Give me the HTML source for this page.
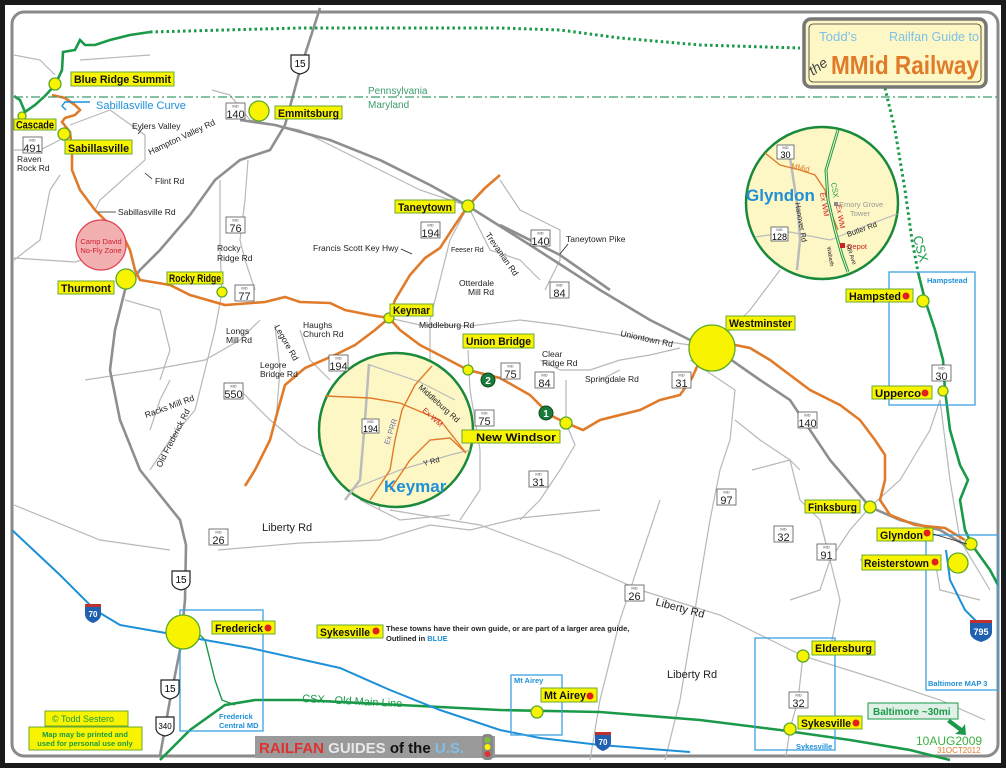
<!DOCTYPE html>
<html><head><meta charset="utf-8"><style>
html,body{margin:0;padding:0;background:#1a1a1a}
svg{display:block}
text{font-family:"Liberation Sans",sans-serif}
.lb{fill:#f8f400;stroke:#6aa832;stroke-width:1}
.lt{font-weight:bold;font-size:11px;fill:#111}
.sm{font-size:8.5px;fill:#222}
.rd{fill:none;stroke:#b8b8b8;stroke-width:1.2}
.hw{fill:none;stroke:#8f8f8f;stroke-width:2.6}
.or{fill:none;stroke:#e07b2a;stroke-width:2.6}
.gr{fill:none;stroke:#1a9a48;stroke-width:2.6}
.bl{fill:none;stroke:#1e90d8;stroke-width:2}
.bx{fill:none;stroke:#3aa2e0;stroke-width:1.3}
.tc{fill:#f8f400;stroke:#5aa82a;stroke-width:1.3}
.sh{fill:#fff;stroke:#555;stroke-width:0.8}
.sn{font-size:11px;fill:#222}
.st{font-size:4px;fill:#444}
</style></head><body>
<svg width="1006" height="768" viewBox="0 0 1006 768" xmlns="http://www.w3.org/2000/svg">
<rect x="0" y="0" width="1006" height="768" fill="#1a1a1a"/>
<rect x="5" y="5" width="996" height="758" fill="#fff"/>
<rect x="12" y="12" width="986" height="744" rx="12" fill="#fff" stroke="#8a8a8a" stroke-width="3"/>

<g class="rd">
<path d="M14,55 L40,60 L55,75 M80,60 L150,55"/>
<path d="M14,150 L40,150 L60,140 M70,125 L110,110 L145,135 L145,160 L100,200 L95,210"/>
<path d="M14,260 L40,240 L50,190 L60,175 M14,258 L75,262 L100,255"/>
<path d="M212,90 L230,95 L250,120 L300,130 L360,160 L420,190 L468,206"/>
<path d="M248,160 L245,200 L240,240 L245,260 L255,290"/>
<path d="M220,180 L220,250 L222,292 L215,330 L205,370 L195,410 L170,440 L150,470"/>
<path d="M125,300 L160,310 L170,350 L160,380"/>
<path d="M85,380 L150,370 L205,360 L240,340 L260,320"/>
<path d="M240,390 L270,420 L300,445 L330,460"/>
<path d="M275,325 L280,370 L276,420 M300,330 L310,360 L330,380"/>
<path d="M468,206 L450,240 L440,280 L430,320 L430,360 M468,206 L490,250 L520,260 L540,280"/>
<path d="M500,180 L520,210 L560,230 L560,260 L545,290"/>
<path d="M389,318 L420,325 L470,326 L520,320 L560,325 L620,335 L690,345"/>
<path d="M468,350 L470,390 L480,450 L480,490 L460,520"/>
<path d="M540,360 L560,370 L590,370 L620,360 L650,355 L680,348"/>
<path d="M566,423 L575,445 L560,470 L540,500 L520,520"/>
<path d="M566,380 L566,423 M600,380 L620,370"/>
<path d="M712,348 L750,310 L765,290 L780,270"/>
<path d="M690,360 L735,390 L730,440 L720,470 L710,520 L700,580 L690,640 L680,700 L665,760"/>
<path d="M735,420 L760,440 L790,460 L800,470 M752,470 L790,460 L800,500 L820,520 L830,560 L820,590 L790,600"/>
<path d="M820,520 L830,560 L840,600 L830,650 M870,507 L850,530 L830,560"/>
<path d="M870,507 L900,480 L930,430 L940,400 L945,440 L950,480 L960,540 L990,590"/>
<path d="M860,560 L900,555 L935,560 L940,590 L980,600"/>
<path d="M218,550 L300,543 L380,540 L430,525 L470,530 L520,518 L600,510"/>
<path d="M14,505 L100,540 L170,550"/>
<path d="M390,510 L480,525 L560,555 L640,590 L720,615 L803,656 L880,680 L940,700 L985,720"/>
<path d="M803,656 L798,700 L790,729 L786,756"/>
<path d="M660,500 L640,560 L620,620 L600,700 L590,760"/>
<path d="M150,430 L160,400 L170,380"/>
<path d="M370,470 L380,510 M360,500 L400,520 L450,515"/>
</g>

<g class="hw">
<path d="M320,8 L300,70 L285,125 L270,150 L240,160 L215,180 L190,215 L160,250 L140,270 L125,290 L115,330 L110,370 L120,420 L140,470 L180,520 L186,545 L185,600 L180,650 L170,700 L160,756"/>
<path d="M240,120 L275,125 L330,140 L380,160 L430,185 L468,206 L530,245 L600,290 L650,320 L690,340 L720,352 L760,380 L790,400 L830,460 L870,507 L900,520 L940,530 L965,545"/>
<path d="M500,225 L560,255 L610,290"/>
</g>

<g class="or">
<path d="M52,95 L65,98 L75,105 L80,110 L75,115 L65,118 L62,122 L70,132 L72,150 L72,170 L80,190 L95,210 L110,225 L120,230 L130,250 L135,270 L140,280 L170,285 L190,295 L225,305 L265,302 L285,297 L300,302 L330,303 L345,310 L370,315 L389,318 L400,330 L420,345 L445,358 L468,370 L500,378 L530,395 L550,415 L566,423 L583,430 L600,420 L640,410 L660,400 L680,395 L692,378 L700,360 L712,348 L730,344 L750,348 L770,360 L790,375 L810,390 L840,405 L860,420 L875,440 L885,455 L885,480 L880,500 L890,515 L915,525 L945,528 L965,540"/>
<path d="M389,318 L395,300 L410,275 L425,258 L440,248 L455,225 L468,206 L485,188 L500,175"/>
<path d="M389,318 L375,330 L355,345 L335,355 L305,368 L285,385 L278,410 L270,440 L255,470 L245,486"/>
</g>

<g class="gr">
<path d="M14,96 L20,100 L25,112 L35,105 L45,96 L55,85 L62,70 L63,52 L75,50 L80,40 L85,45 L95,45 L110,40 L130,35 L150,32"/>
<path d="M918,272 L925,300 L935,330 L943,360 L945,390 L950,430 L960,465 L968,480 L960,500 L965,530 L972,545 L990,570 L998,585"/>
<path d="M160,760 L190,730 L225,705 L255,700 L300,700 L400,705 L500,710 L600,712 L700,720 L780,730 L850,740 L910,750 L950,760"/>
<path d="M195,630 L205,640 L215,680 L222,700 L235,705" stroke-width="1.4"/>
</g>
<g fill="none" stroke="#1a9a48" stroke-width="3" stroke-dasharray="2.5,3">
<path d="M150,32 L300,28 L500,28 L560,30 L620,38 L700,45 L800,48"/>
<path d="M885,88 L895,130 L905,190 L912,240 L918,272"/>
</g>

<line x1="14" y1="97" x2="998" y2="97" stroke="#3c9c6c" stroke-width="1.2" stroke-dasharray="9,3,2,3"/>
<text x="368" y="94" font-size="10" fill="#3c9c6c">Pennsylvania</text>
<text x="368" y="108" font-size="10" fill="#3c9c6c">Maryland</text>

<g class="bl">
<path d="M12,530 L60,575 L95,610 L120,625 L160,632 L250,648 L340,668 L390,690 L440,710 L500,730 L540,738 L600,745 L690,752"/>
<path d="M946,550 L950,580 L965,610 L977,622"/>
<path d="M66,110 L62,106 L65,102 L90,102" stroke-width="1.4"/>
</g>

<g class="bx">
<rect x="180" y="610" width="83" height="121"/>
<rect x="511" y="675" width="51" height="60"/>
<rect x="755" y="638" width="80" height="112"/>
<rect x="926" y="535" width="72" height="155"/>
<rect x="889" y="272" width="86" height="133"/>
</g>
<g font-size="7.5" fill="#1e90d8" font-weight="bold">
<text x="927" y="283">Hampstead</text>
<text x="928" y="686">Baltimore MAP 3</text>
<text x="514" y="683">Mt Airey</text>
<text x="796" y="749">Sykesville</text>
<text x="219" y="719">Frederick</text>
<text x="219" y="728">Central MD</text>
</g>

<circle cx="101" cy="245" r="25" fill="#f2b0b0" stroke="#e04050" stroke-width="1.2"/>
<text x="101" y="244" font-size="7.5" fill="#d02030" text-anchor="middle">Camp David</text>
<text x="101" y="253" font-size="7.5" fill="#d02030" text-anchor="middle">No-Fly Zone</text>

<circle cx="396" cy="430" r="77" fill="#fdf7c6" stroke="#1a8a3a" stroke-width="2.5"/>
<g fill="none">
<path d="M369,364 L365,420 L360,480 L345,500" stroke="#bbb" stroke-width="2.5"/>
<path d="M370,365 L420,382 L455,400 M350,490 L400,470 L450,455 L470,450" stroke="#bbb" stroke-width="1.2"/>
<path d="M325,396 L370,398 L400,403 L440,420 L466,453" stroke="#e07b2a" stroke-width="1.4"/>
<path d="M432,366 L415,385 L402,410 L395,440 L390,470 L370,500" stroke="#e07b2a" stroke-width="1.4"/>
<path d="M390,490 L410,460 L430,440 L450,438 L466,453" stroke="#e07b2a" stroke-width="1.4"/>
</g>
<g transform="translate(362,419)"><rect class="sh" x="0" y="0" width="17" height="14"/><text class="st" x="8.5" y="4" text-anchor="middle">MD</text><text x="8.5" y="13" font-size="9" text-anchor="middle">194</text></g>
<text x="0" y="0" font-size="8" fill="#222" transform="translate(418,388) rotate(42)">Middleburg Rd</text>
<text x="0" y="0" font-size="7.5" fill="#d02020" transform="translate(422,411) rotate(42)">Ex WM</text>
<text x="0" y="0" font-size="7.5" fill="#7070a0" transform="translate(389,445) rotate(-72)">Ex PRR</text>
<text x="0" y="0" font-size="7.5" fill="#222" transform="translate(424,466) rotate(-15)">Y Rd</text>
<text x="384" y="492" font-size="17" font-weight="bold" fill="#1e90d8">Keymar</text>

<circle cx="822" cy="203" r="76" fill="#fdf7c6" stroke="#1a8a3a" stroke-width="2.5"/>
<g fill="none">
<path d="M788,145 L792,170 L798,210 L800,240 L797,270" stroke="#bbb" stroke-width="2.5"/>
<path d="M755,237 L790,232 L830,240 L860,228 L897,214" stroke="#bbb" stroke-width="1.2"/>
<path d="M765,153 L780,165 L800,170 L815,175 L825,190 L830,210 L838,230" stroke="#e07b2a" stroke-width="1.4"/>
<path d="M838,130 L832,150 L826,170 L828,200 L835,230 L842,255 L848,272" stroke="#1a9a48" stroke-width="3"/>
<path d="M838,130 L832,150 L826,170 L828,200 L835,230 L842,255 L848,272" stroke="#fdf7c6" stroke-width="1"/>
</g>
<g transform="translate(777,145)"><rect class="sh" x="0" y="0" width="17" height="14"/><text class="st" x="8.5" y="4" text-anchor="middle">MD</text><text x="8.5" y="13" font-size="9" text-anchor="middle">30</text></g>
<g transform="translate(771,227)"><rect class="sh" x="0" y="0" width="17" height="14"/><text class="st" x="8.5" y="4" text-anchor="middle">MD</text><text x="8.5" y="13" font-size="9" text-anchor="middle">128</text></g>
<text x="791" y="168" font-size="7.5" fill="#e07b2a" transform="rotate(12,791,168)">MMid</text>
<text x="746" y="201" font-size="17" font-weight="bold" fill="#1e90d8">Glyndon</text>
<text x="0" y="0" font-size="7.5" fill="#222" transform="translate(795,203) rotate(80)">Hanover Rd</text>
<text x="0" y="0" font-size="7.5" fill="#d02020" transform="translate(820,193) rotate(80)">Ex WM</text>
<text x="0" y="0" font-size="7.5" fill="#d02020" transform="translate(836,205) rotate(80)">Ex WM</text>
<text x="0" y="0" font-size="7.5" fill="#1a9a48" transform="translate(831,183) rotate(80)">CSX</text>
<rect x="834" y="202" width="4" height="4" fill="#888"/>
<text x="839" y="207" font-size="7.5" fill="#999">Emory Grove</text>
<text x="850" y="216" font-size="7.5" fill="#999">Tower</text>
<text x="0" y="0" font-size="7.5" fill="#222" transform="translate(848,237) rotate(-20)">Butler Rd</text>
<rect x="840" y="243" width="5" height="5" fill="#d02020"/>
<text x="847" y="249" font-size="7.5" fill="#d02020">Depot</text>
<text x="0" y="0" font-size="5.5" fill="#222" transform="translate(827,247) rotate(80)">Wabash</text>
<text x="0" y="0" font-size="6" fill="#222" transform="translate(846,246) rotate(70)">RR Ave</text>

<rect x="804" y="19" width="182" height="68" rx="7" fill="#fdf7c6" stroke="#777" stroke-width="3.5"/>
<rect x="809" y="24" width="172" height="58" rx="4" fill="none" stroke="#333" stroke-width="0.8"/>
<text x="819" y="41" font-size="13" fill="#7ec0e8" textLength="38" lengthAdjust="spacingAndGlyphs">Todd’s</text>
<text x="889" y="41" font-size="13" fill="#7ec0e8" textLength="90" lengthAdjust="spacingAndGlyphs">Railfan Guide to</text>
<text x="811" y="74" font-size="14" font-style="italic" fill="#444" font-family="Liberation Serif,serif" transform="rotate(-35,815,72)">the</text>
<text x="831" y="74" font-size="26" font-weight="bold" fill="#e07b2a" textLength="148" lengthAdjust="spacingAndGlyphs">MMid Railway</text>
<text x="0" y="0" font-size="13" fill="#1a9a48" transform="translate(913,237) rotate(75)">CSX</text>

<g class="tc">
<circle cx="55" cy="84" r="6"/><circle cx="22" cy="116" r="4"/><circle cx="64" cy="134" r="6"/>
<circle cx="259" cy="111" r="10"/><circle cx="126" cy="279" r="10"/><circle cx="222" cy="292" r="5"/>
<circle cx="468" cy="206" r="6"/><circle cx="389" cy="318" r="5"/><circle cx="468" cy="370" r="5"/>
<circle cx="566" cy="423" r="6"/><circle cx="712" cy="348" r="23"/><circle cx="923" cy="301" r="6"/>
<circle cx="943" cy="391" r="5"/><circle cx="870" cy="507" r="6"/><circle cx="971" cy="544" r="6"/>
<circle cx="958" cy="563" r="10"/><circle cx="803" cy="656" r="6"/><circle cx="790" cy="729" r="6"/>
<circle cx="537" cy="712" r="6"/><circle cx="183" cy="632" r="17"/>
</g>
<circle cx="546" cy="413" r="7" fill="#1a7a3a" stroke="#0a4a1a"/><text x="546" y="417" font-size="10" font-weight="bold" fill="#fff" text-anchor="middle">1</text>
<circle cx="488" cy="380" r="7" fill="#1a7a3a" stroke="#0a4a1a"/><text x="488" y="384" font-size="10" font-weight="bold" fill="#fff" text-anchor="middle">2</text>

<g lengthAdjust="spacingAndGlyphs">
<rect class="lb" x="71" y="72" width="103" height="14"/><text class="lt" x="74" y="83" textLength="97" lengthAdjust="spacingAndGlyphs">Blue Ridge Summit</text>
<rect class="lb" x="14" y="119" width="42" height="11"/><text class="lt" x="16" y="128.5" font-size="9.5" textLength="38" lengthAdjust="spacingAndGlyphs">Cascade</text>
<rect class="lb" x="65" y="140" width="67" height="14"/><text class="lt" x="68" y="152" textLength="61" lengthAdjust="spacingAndGlyphs">Sabillasville</text>
<rect class="lb" x="275" y="106" width="67" height="13"/><text class="lt" x="278" y="117" textLength="61" lengthAdjust="spacingAndGlyphs">Emmitsburg</text>
<rect class="lb" x="395" y="200" width="60" height="13"/><text class="lt" x="398" y="211" textLength="54" lengthAdjust="spacingAndGlyphs">Taneytown</text>
<rect class="lb" x="167" y="272" width="56" height="12"/><text class="lt" x="169" y="282" font-size="10" textLength="52" lengthAdjust="spacingAndGlyphs">Rocky Ridge</text>
<rect class="lb" x="58" y="281" width="56" height="13"/><text class="lt" x="61" y="292" textLength="50" lengthAdjust="spacingAndGlyphs">Thurmont</text>
<rect class="lb" x="390" y="304" width="43" height="12"/><text class="lt" x="393" y="314" font-size="10" textLength="37" lengthAdjust="spacingAndGlyphs">Keymar</text>
<rect class="lb" x="463" y="334" width="71" height="14"/><text class="lt" x="466" y="345" textLength="65" lengthAdjust="spacingAndGlyphs">Union Bridge</text>
<rect class="lb" x="462" y="430" width="98" height="13"/><text class="lt" x="476" y="441" textLength="80" lengthAdjust="spacingAndGlyphs">New Windsor</text>
<rect class="lb" x="726" y="316" width="69" height="14"/><text class="lt" x="729" y="327" textLength="63" lengthAdjust="spacingAndGlyphs">Westminster</text>
<rect class="lb" x="846" y="289" width="67" height="13"/><text class="lt" x="849" y="300" textLength="52" lengthAdjust="spacingAndGlyphs">Hampsted</text>
<rect class="lb" x="872" y="386" width="60" height="13"/><text class="lt" x="875" y="397" textLength="46" lengthAdjust="spacingAndGlyphs">Upperco</text>
<rect class="lb" x="805" y="500" width="55" height="13"/><text class="lt" x="808" y="511" textLength="49" lengthAdjust="spacingAndGlyphs">Finksburg</text>
<rect class="lb" x="877" y="528" width="56" height="13"/><text class="lt" x="880" y="539" textLength="43" lengthAdjust="spacingAndGlyphs">Glyndon</text>
<rect class="lb" x="862" y="555" width="79" height="15"/><text class="lt" x="864" y="567" textLength="65" lengthAdjust="spacingAndGlyphs">Reisterstown</text>
<rect class="lb" x="812" y="641" width="63" height="14"/><text class="lt" x="815" y="652" textLength="57" lengthAdjust="spacingAndGlyphs">Eldersburg</text>
<rect class="lb" x="798" y="716" width="64" height="13"/><text class="lt" x="801" y="727" textLength="50" lengthAdjust="spacingAndGlyphs">Sykesville</text>
<rect class="lb" x="541" y="688" width="56" height="14"/><text class="lt" x="544" y="699" textLength="42" lengthAdjust="spacingAndGlyphs">Mt Airey</text>
<rect class="lb" x="212" y="621" width="63" height="13"/><text class="lt" x="215" y="632" textLength="48" lengthAdjust="spacingAndGlyphs">Frederick</text>
<rect class="lb" x="317" y="625" width="66" height="13"/><text class="lt" x="320" y="636" textLength="50" lengthAdjust="spacingAndGlyphs">Sykesville</text>
</g>
<g fill="#e02020">
<circle cx="906" cy="296" r="3.5"/><circle cx="925" cy="393" r="3.5"/><circle cx="927" cy="533" r="3.5"/>
<circle cx="935" cy="562" r="3.5"/><circle cx="856" cy="723" r="3.5"/><circle cx="590" cy="696" r="3.5"/>
<circle cx="268" cy="628" r="3.5"/><circle cx="376" cy="631" r="3.5"/>
</g>
<line x1="933" y1="534" x2="967" y2="544" stroke="#222" stroke-width="0.8"/>
<text x="386" y="631" font-size="7.5" font-weight="bold" fill="#222">These towns have their own guide, or are part of a larger area guide,</text>
<text x="386" y="641" font-size="7.5" font-weight="bold" fill="#222">Outlined in <tspan fill="#1e90d8">BLUE</tspan></text>

<g class="sm">
<text x="96" y="109" font-size="11" fill="#1e90d8">Sabillasville Curve</text>
<text x="132" y="129">Eylers Valley</text>
<text x="0" y="0" transform="translate(150,155) rotate(-25)">Hampton Valley Rd</text>
<text x="155" y="184">Flint Rd</text>
<text x="118" y="215">Sabillasville Rd</text>
<text x="17" y="162">Raven</text><text x="17" y="171">Rock Rd</text>
<text x="217" y="251">Rocky</text><text x="217" y="261">Ridge Rd</text>
<text x="313" y="251">Francis Scott Key Hwy</text>
<text x="451" y="252" font-size="7">Feeser Rd</text>
<text x="0" y="0" transform="translate(485,235) rotate(55)">Trevanian Rd</text>
<text x="566" y="242">Taneytown Pike</text>
<text x="459" y="286">Otterdale</text><text x="468" y="295">Mill Rd</text>
<text x="419" y="328">Middleburg Rd</text>
<text x="303" y="328">Haughs</text><text x="303" y="337">Church Rd</text>
<text x="0" y="0" transform="translate(274,327) rotate(60)">Legore Rd</text>
<text x="226" y="334">Longs</text><text x="226" y="343">Mill Rd</text>
<text x="260" y="368">Legore</text><text x="260" y="377">Bridge Rd</text>
<text x="0" y="0" transform="translate(146,418) rotate(-20)">Racks Mill Rd</text>
<text x="0" y="0" transform="translate(161,468) rotate(-63)">Old Frederick Rd</text>
<text x="542" y="357">Clear</text><text x="542" y="366">Ridge Rd</text>
<text x="585" y="382">Springdale Rd</text>
<text x="0" y="0" transform="translate(620,336) rotate(12)">Uniontown Rd</text>
<text x="262" y="531" font-size="11">Liberty Rd</text>
<text x="0" y="0" font-size="11" transform="translate(655,605) rotate(15)">Liberty Rd</text>
<text x="667" y="678" font-size="11">Liberty Rd</text>
<text x="0" y="0" font-size="11" fill="#1a9a48" transform="translate(302,702) rotate(3)">CSX - Old Main Line</text>
</g>
<g stroke="#222" stroke-width="0.8" fill="#222">
<path d="M143,128 L138,134"/><path d="M152,179 L145,173"/><path d="M116,212 L98,212"/><path d="M401,249 L412,254"/><path d="M568,244 L560,254"/>
</g>

<g>
<g transform="translate(226,103)"><rect class="sh" width="19" height="16"/><text class="st" x="9.5" y="4.5" text-anchor="middle">MD</text><text class="sn" x="9.5" y="15" text-anchor="middle">140</text></g>
<g transform="translate(23,137)"><rect class="sh" width="19" height="16"/><text class="st" x="9.5" y="4.5" text-anchor="middle">MD</text><text class="sn" x="9.5" y="15" text-anchor="middle">491</text></g>
<g transform="translate(226,217)"><rect class="sh" width="19" height="16"/><text class="st" x="9.5" y="4.5" text-anchor="middle">MD</text><text class="sn" x="9.5" y="15" text-anchor="middle">76</text></g>
<g transform="translate(235,285)"><rect class="sh" width="19" height="16"/><text class="st" x="9.5" y="4.5" text-anchor="middle">MD</text><text class="sn" x="9.5" y="15" text-anchor="middle">77</text></g>
<g transform="translate(421,222)"><rect class="sh" width="19" height="16"/><text class="st" x="9.5" y="4.5" text-anchor="middle">MD</text><text class="sn" x="9.5" y="15" text-anchor="middle">194</text></g>
<g transform="translate(531,230)"><rect class="sh" width="19" height="16"/><text class="st" x="9.5" y="4.5" text-anchor="middle">MD</text><text class="sn" x="9.5" y="15" text-anchor="middle">140</text></g>
<g transform="translate(550,282)"><rect class="sh" width="19" height="16"/><text class="st" x="9.5" y="4.5" text-anchor="middle">MD</text><text class="sn" x="9.5" y="15" text-anchor="middle">84</text></g>
<g transform="translate(329,355)"><rect class="sh" width="19" height="16"/><text class="st" x="9.5" y="4.5" text-anchor="middle">MD</text><text class="sn" x="9.5" y="15" text-anchor="middle">194</text></g>
<g transform="translate(224,383)"><rect class="sh" width="19" height="16"/><text class="st" x="9.5" y="4.5" text-anchor="middle">MD</text><text class="sn" x="9.5" y="15" text-anchor="middle">550</text></g>
<g transform="translate(501,363)"><rect class="sh" width="19" height="16"/><text class="st" x="9.5" y="4.5" text-anchor="middle">MD</text><text class="sn" x="9.5" y="15" text-anchor="middle">75</text></g>
<g transform="translate(535,372)"><rect class="sh" width="19" height="16"/><text class="st" x="9.5" y="4.5" text-anchor="middle">MD</text><text class="sn" x="9.5" y="15" text-anchor="middle">84</text></g>
<g transform="translate(475,410)"><rect class="sh" width="19" height="16"/><text class="st" x="9.5" y="4.5" text-anchor="middle">MD</text><text class="sn" x="9.5" y="15" text-anchor="middle">75</text></g>
<g transform="translate(672,372)"><rect class="sh" width="19" height="16"/><text class="st" x="9.5" y="4.5" text-anchor="middle">MD</text><text class="sn" x="9.5" y="15" text-anchor="middle">31</text></g>
<g transform="translate(529,471)"><rect class="sh" width="19" height="16"/><text class="st" x="9.5" y="4.5" text-anchor="middle">MD</text><text class="sn" x="9.5" y="15" text-anchor="middle">31</text></g>
<g transform="translate(798,412)"><rect class="sh" width="19" height="16"/><text class="st" x="9.5" y="4.5" text-anchor="middle">MD</text><text class="sn" x="9.5" y="15" text-anchor="middle">140</text></g>
<g transform="translate(717,489)"><rect class="sh" width="19" height="16"/><text class="st" x="9.5" y="4.5" text-anchor="middle">MD</text><text class="sn" x="9.5" y="15" text-anchor="middle">97</text></g>
<g transform="translate(774,526)"><rect class="sh" width="19" height="16"/><text class="st" x="9.5" y="4.5" text-anchor="middle">MD</text><text class="sn" x="9.5" y="15" text-anchor="middle">32</text></g>
<g transform="translate(817,544)"><rect class="sh" width="19" height="16"/><text class="st" x="9.5" y="4.5" text-anchor="middle">MD</text><text class="sn" x="9.5" y="15" text-anchor="middle">91</text></g>
<g transform="translate(209,529)"><rect class="sh" width="19" height="16"/><text class="st" x="9.5" y="4.5" text-anchor="middle">MD</text><text class="sn" x="9.5" y="15" text-anchor="middle">26</text></g>
<g transform="translate(625,585)"><rect class="sh" width="19" height="16"/><text class="st" x="9.5" y="4.5" text-anchor="middle">MD</text><text class="sn" x="9.5" y="15" text-anchor="middle">26</text></g>
<g transform="translate(789,692)"><rect class="sh" width="19" height="16"/><text class="st" x="9.5" y="4.5" text-anchor="middle">MD</text><text class="sn" x="9.5" y="15" text-anchor="middle">32</text></g>
<g transform="translate(932,365)"><rect class="sh" width="19" height="16"/><text class="st" x="9.5" y="4.5" text-anchor="middle">MD</text><text class="sn" x="9.5" y="15" text-anchor="middle">30</text></g>
</g>

<g>
<g transform="translate(300,63)"><path d="M-9,-8 L9,-8 L9,3 Q9,9 0,11 Q-9,9 -9,3 Z" fill="#fff" stroke="#222" stroke-width="1.2"/><text x="0" y="4" font-size="10" text-anchor="middle">15</text></g>
<g transform="translate(181,579)"><path d="M-9,-8 L9,-8 L9,3 Q9,9 0,11 Q-9,9 -9,3 Z" fill="#fff" stroke="#222" stroke-width="1.2"/><text x="0" y="4" font-size="10" text-anchor="middle">15</text></g>
<g transform="translate(170,688)"><path d="M-9,-8 L9,-8 L9,3 Q9,9 0,11 Q-9,9 -9,3 Z" fill="#fff" stroke="#222" stroke-width="1.2"/><text x="0" y="4" font-size="10" text-anchor="middle">15</text></g>
<g transform="translate(165,725)"><path d="M-9,-8 L9,-8 L9,3 Q9,9 0,11 Q-9,9 -9,3 Z" fill="#fff" stroke="#222" stroke-width="1.2"/><text x="0" y="4" font-size="8" text-anchor="middle">340</text></g>
<g transform="translate(93,612)"><path d="M-8,-8 L8,-8 L8,2 Q8,8 0,11 Q-8,8 -8,2 Z" fill="#2060b0"/><rect x="-8" y="-8" width="16" height="3" fill="#c03030"/><text x="0" y="5" font-size="8" font-weight="bold" fill="#fff" text-anchor="middle">70</text></g>
<g transform="translate(603,740)"><path d="M-8,-8 L8,-8 L8,2 Q8,8 0,11 Q-8,8 -8,2 Z" fill="#2060b0"/><rect x="-8" y="-8" width="16" height="3" fill="#c03030"/><text x="0" y="5" font-size="8" font-weight="bold" fill="#fff" text-anchor="middle">70</text></g>
<g transform="translate(981,629)"><path d="M-11,-9 L11,-9 L11,3 Q11,10 0,13 Q-11,10 -11,3 Z" fill="#2060b0"/><rect x="-11" y="-9" width="22" height="3" fill="#c03030"/><text x="0" y="6" font-size="9" font-weight="bold" fill="#fff" text-anchor="middle">795</text></g>
</g>

<rect x="45" y="711" width="83" height="15" fill="#f8f400" stroke="#6aa832"/>
<text x="52" y="722" font-size="9" fill="#1a9a48">© Todd Sestero</text>
<rect x="29" y="727" width="113" height="23" fill="#f8f400" stroke="#6aa832"/>
<text x="85" y="737" font-size="7.5" font-weight="bold" fill="#1a9a48" text-anchor="middle">Map may be printed and</text>
<text x="85" y="746" font-size="7.5" font-weight="bold" fill="#1a9a48" text-anchor="middle">used for personal use only</text>

<rect x="255" y="736" width="240" height="22" fill="#9a9a9a"/>
<text x="259" y="753" font-size="15" font-weight="bold"><tspan fill="#e03030">RAILFAN </tspan><tspan fill="#e8e8e8">GUIDES </tspan><tspan fill="#111">of the </tspan><tspan fill="#7ec0e8">U.S.</tspan></text>
<rect x="482" y="734" width="11" height="26" rx="4" fill="#888"/>
<circle cx="487.5" cy="740" r="3" fill="#7ec03a"/><circle cx="487.5" cy="747" r="3" fill="#f8f400"/><circle cx="487.5" cy="754" r="3" fill="#e03030"/>

<rect x="868" y="703" width="90" height="16" fill="#e0f0e6" stroke="#1a9a48"/>
<text x="873" y="715" font-size="10" font-weight="bold" fill="#1a9a48">Baltimore ~30mi</text>
<path d="M950,719 L962,728 L965,724 L966,735 L955,734 L959,731 L947,722 Z" fill="#1a9a48"/>
<text x="916" y="745" font-size="12" fill="#3ab040">10AUG2009</text>
<text x="937" y="753" font-size="8" fill="#e07b2a">31OCT2012</text>
</svg>
</body></html>
